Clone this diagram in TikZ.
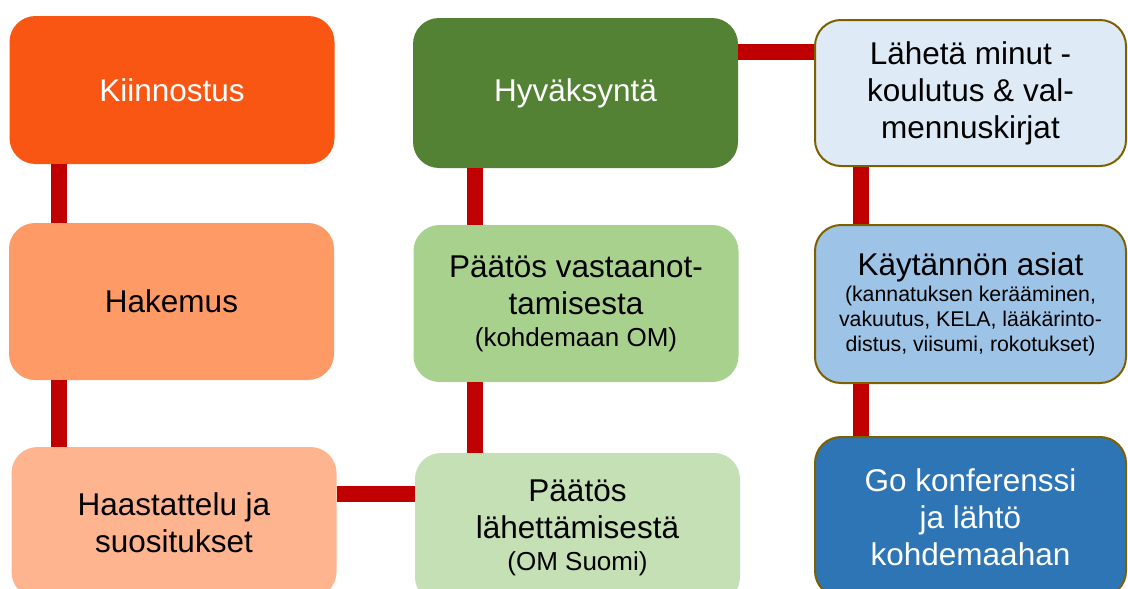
\documentclass[tikz,border=0pt]{standalone}
\usepackage{fontspec}
\setmainfont{Liberation Sans}
\begin{document}
\begin{tikzpicture}[x=1pt,y=-1pt,
  box/.style={rounded corners=26pt, minimum width=#1, inner sep=0pt, align=center, text=black,
    font=\fontsize{31.5}{37}\selectfont},
  box/.default=325pt,
  bbox/.style={box=311pt, draw=borderc, line width=2pt, rounded corners=26pt},
  conn/.style={draw=connc, line width=16pt}
]
\definecolor{c1}{HTML}{F85612}
\definecolor{c2}{HTML}{FE9A66}
\definecolor{c3}{HTML}{FDB48F}
\definecolor{g1}{HTML}{548235}
\definecolor{g2}{HTML}{A9D18E}
\definecolor{g3}{HTML}{C5E0B4}
\definecolor{b1}{HTML}{DEEBF7}
\definecolor{b2}{HTML}{9DC3E6}
\definecolor{b3}{HTML}{2E75B6}
\definecolor{borderc}{HTML}{7F6000}
\definecolor{connc}{HTML}{C00000}
\newcommand{\bigtxt}{\fontsize{31.5}{37}\selectfont}
\useasboundingbox (0,0) rectangle (1128,589);
\clip (0,0) rectangle (1128,589);

% column 1
\node[box, fill=c1, text=white, minimum height=148pt] (kiin) at (172,90) {Kiinnostus};
\node[box, fill=c2, minimum height=157pt] (hak) at (171.5,301.5) {Hakemus};
\node[box, fill=c3, minimum height=151pt] (haas) at (174,522.5) {Haastattelu ja\\suositukset};

% column 2
\node[box, fill=g1, text=white, minimum height=150pt] (hyv) at (575.5,93) {Hyväksyntä};
\node[box, fill=g2, minimum height=157pt, font=\fontsize{26}{32}\selectfont] (pvas) at (576,303.5)
  {{\bigtxt Päätös vastaanot-}\\[5pt]{\bigtxt tamisesta}\\(kohdemaan OM)};
\node[box, fill=g3, minimum height=150pt, font=\fontsize{26}{32}\selectfont] (plah) at (577.5,528)
  {{\bigtxt Päätös}\\[5pt]{\bigtxt lähettämisestä}\\(OM Suomi)};

% column 3
\node[bbox, fill=b1, minimum height=146pt] (lah) at (970.5,93) {Lähetä minut -\\koulutus \& val-\\mennuskirjat};
\node[bbox, fill=b2, minimum height=158pt, font=\fontsize{21.3}{25}\selectfont] (kay) at (970.5,304)
  {{\bigtxt Käytännön asiat}\\[1pt](kannatuksen kerääminen,\\vakuutus, KELA, lääkärinto-\\distus, viisumi, rokotukset)};
\node[bbox, fill=b3, text=white, minimum height=160pt] (go) at (970.5,517) {Go konferenssi\\ja lähtö\\kohdemaahan};

% connector positions
\coordinate (x1) at (59,0);
\coordinate (x2) at (475,0);
\coordinate (x3) at (861,0);
\coordinate (y1) at (0,52);
\coordinate (y2) at (0,494);

\draw[conn] (kiin.south -| x1) -- (hak.north -| x1);
\draw[conn] (hak.south -| x1) -- (haas.north -| x1);
\draw[conn] (haas.east |- y2) -- (plah.west |- y2);
\draw[conn] (plah.north -| x2) -- (pvas.south -| x2);
\draw[conn] (pvas.north -| x2) -- (hyv.south -| x2);
\draw[conn] (hyv.east |- y1) -- (lah.west |- y1);
\draw[conn] (lah.south -| x3) -- (kay.north -| x3);
\draw[conn] (kay.south -| x3) -- (go.north -| x3);
\end{tikzpicture}
\end{document}
